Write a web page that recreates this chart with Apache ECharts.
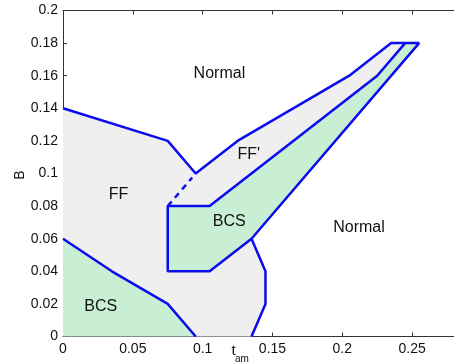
<!DOCTYPE html>
<html>
<head>
<meta charset="utf-8">
<script src="https://cdn.jsdelivr.net/npm/echarts@6/dist/echarts.min.js"></script>
<style>
  html, body { margin: 0; padding: 0; background: #ffffff; }
  #chart { width: 454px; height: 362px; }
</style>
</head>
<body>
<div id="chart"></div>
<script>
// Phase boundaries in the (t_am, B) plane
const outerBoundary = [[0, 0.14], [0.075, 0.12], [0.095, 0.10], [0.125, 0.12], [0.205, 0.16],
  [0.235, 0.18], [0.255, 0.18], [0.135, 0.06], [0.145, 0.04], [0.145, 0.02], [0.135, 0]];
const innerBoundary = [[0.245, 0.18], [0.225, 0.16], [0.105, 0.08], [0.075, 0.08],
  [0.075, 0.04], [0.105, 0.04], [0.135, 0.06]];
const lowBcsBoundary = [[0, 0.06], [0.035, 0.04], [0.075, 0.02], [0.095, 0]];
const dashedBoundary = [[0.075, 0.08], [0.0925, 0.0975]];

// Region labels: [t_am, B, text]
const regionLabels = [
  [0.112, 0.161, 'Normal'],
  [0.212, 0.0666, 'Normal'],
  [0.0398, 0.0869, 'FF'],
  [0.133, 0.1114, "FF'"],
  [0.119, 0.0703, 'BCS'],
  [0.027, 0.0182, 'BCS']
];

// Tick labels
const xTicks = ['0', '0.05', '0.1', '0.15', '0.2', '0.25'];
const yTicks = ['0', '0.02', '0.04', '0.06', '0.08', '0.1', '0.12', '0.14', '0.16', '0.18', '0.2'];

// Filled regions derived from the boundaries
const grayRegion = outerBoundary.concat([[0.095, 0]], lowBcsBoundary.slice().reverse());
const greenMidRegion = innerBoundary.concat([[0.255, 0.18]]);
const greenLowRegion = [[0, 0]].concat(lowBcsBoundary);

const FONT = '"Liberation Sans", Arial, Helvetica, sans-serif';
const LINE_BLUE = '#0b0bef';

function polygonSeries(points, color) {
  return {
    type: 'custom',
    coordinateSystem: 'cartesian2d',
    silent: true,
    z: 1,
    data: points,
    renderItem: function (params, api) {
      if (params.dataIndex !== 0) return null;
      const pts = points.map(function (p) { return api.coord(p); });
      return { type: 'polygon', shape: { points: pts }, style: { fill: color } };
    }
  };
}

function boundarySeries(points, dashed) {
  return {
    type: 'line',
    data: points,
    symbol: 'none',
    silent: true,
    z: 3,
    lineStyle: { color: LINE_BLUE, width: 2.5, type: dashed ? [6, 5] : 'solid' }
  };
}

function labelFmt(list, step) {
  return function (v) {
    const i = Math.round(v / step);
    return (Math.abs(i * step - v) < 1e-9 && list[i] !== undefined) ? list[i] : '';
  };
}

const chart = echarts.init(document.getElementById('chart'), null, { renderer: 'canvas' });

const axisLineStyle = { color: '#333333', width: 1 };

chart.setOption({
  animation: false,
  backgroundColor: '#ffffff',
  grid: { left: 63, top: 10.5, width: 401.5, height: 326, containLabel: false },
  xAxis: [
    {
      type: 'value', min: 0, max: 0.28, interval: 0.05, position: 'bottom',
      axisLine: { show: true, onZero: false, lineStyle: axisLineStyle },
      axisTick: { show: true, inside: true, length: 4, lineStyle: axisLineStyle },
      splitLine: { show: false },
      axisLabel: { show: true, showMaxLabel: false, margin: 6, color: '#111111', fontSize: 14,
        fontFamily: FONT, formatter: labelFmt(xTicks, 0.05) }
    },
    {
      type: 'value', min: 0, max: 0.28, interval: 0.05, position: 'top',
      axisLine: { show: true, onZero: false, lineStyle: axisLineStyle },
      axisTick: { show: true, inside: true, length: 4, lineStyle: axisLineStyle },
      splitLine: { show: false },
      axisLabel: { show: false }
    }
  ],
  yAxis: [
    {
      type: 'value', min: 0, max: 0.2, interval: 0.02, position: 'left',
      axisLine: { show: true, onZero: false, lineStyle: axisLineStyle },
      axisTick: { show: true, inside: true, length: 4, lineStyle: axisLineStyle },
      splitLine: { show: false },
      axisLabel: { show: true, margin: 5, color: '#111111', fontSize: 14,
        fontFamily: FONT, formatter: labelFmt(yTicks, 0.02) }
    }
  ],
  graphic: [
    { type: 'text', x: 20, y: 175, rotation: Math.PI / 2,
      style: { text: 'B', font: '14px ' + FONT, fill: '#111111', align: 'center', verticalAlign: 'middle' } },
    { type: 'text', x: 233.5, y: 351,
      style: { text: 't', font: '15px ' + FONT, fill: '#111111', align: 'center', verticalAlign: 'middle' } },
    { type: 'text', x: 242, y: 359.5,
      style: { text: 'am', font: '10px ' + FONT, fill: '#111111', align: 'center', verticalAlign: 'middle' } }
  ],
  series: [
    polygonSeries(grayRegion, '#efefef'),
    polygonSeries(greenMidRegion, '#c8efd3'),
    polygonSeries(greenLowRegion, '#c8efd3'),
    boundarySeries(outerBoundary, false),
    boundarySeries(innerBoundary, false),
    boundarySeries(lowBcsBoundary, false),
    boundarySeries(dashedBoundary, true),
    {
      type: 'custom',
      coordinateSystem: 'cartesian2d',
      silent: true,
      z: 5,
      data: regionLabels,
      renderItem: function (params, api) {
        const p = api.coord([api.value(0), api.value(1)]);
        return {
          type: 'text', x: p[0], y: p[1],
          style: { text: regionLabels[params.dataIndex][2], font: '16px ' + FONT, fill: '#111111',
            align: 'center', verticalAlign: 'middle' }
        };
      }
    }
  ]
});
</script>
</body>
</html>
